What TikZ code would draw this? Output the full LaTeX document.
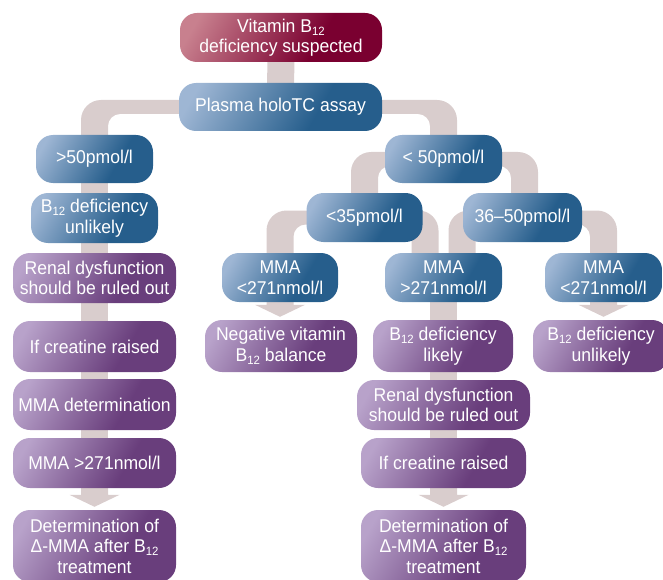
\documentclass[tikz,border=0pt]{standalone}
\usepackage{fontspec}
\setmainfont[FakeStretch=0.95]{Liberation Sans}
\usetikzlibrary{calc}
\definecolor{blueL}{RGB}{158,182,212}
\definecolor{blueD}{RGB}{38,94,140}
\definecolor{purL}{RGB}{184,162,202}
\definecolor{purD}{RGB}{105,62,124}
\definecolor{redL}{RGB}{200,128,142}
\definecolor{redD}{RGB}{122,0,48}
\definecolor{conn}{RGB}{217,205,205}
\pgfdeclarehorizontalshading{bshade}{100bp}{color(0bp)=(blueL); color(22bp)=(blueL); color(62bp)=(blueD); color(100bp)=(blueD)}
\pgfdeclarehorizontalshading{pshade}{100bp}{color(0bp)=(purL); color(22bp)=(purL); color(62bp)=(purD); color(100bp)=(purD)}
\pgfdeclarehorizontalshading{rshade}{100bp}{color(0bp)=(redL); color(22bp)=(redL); color(62bp)=(redD); color(100bp)=(redD)}
\pgfdeclarelayer{bg}
\pgfsetlayers{bg,main}
\newcommand\subs[1]{\raisebox{-3pt}{\fontsize{12}{12}\selectfont #1}}
% branch to a child on the left: parent, child, x offset
\newcommand\branchL[3]{\fill[conn] let \p1=(#1.center), \p2=($(#2.center)+(#3,0)$) in
  (\x1,\y1+7pt) -- (\x2+6.5pt,\y1+7pt) arc[start angle=90,end angle=180,radius=20pt]
  -- (\x2-13.5pt,\y2) -- (\x2+13.5pt,\y2) -- (\x2+13.5pt,\y1-19pt)
  arc[start angle=180,end angle=90,radius=12pt] -- (\x1,\y1-7pt) -- cycle;}
% branch to a child on the right
\newcommand\branchR[3]{\fill[conn] let \p1=(#1.center), \p2=($(#2.center)+(#3,0)$) in
  (\x1,\y1+7pt) -- (\x2-6.5pt,\y1+7pt) arc[start angle=90,end angle=0,radius=20pt]
  -- (\x2+13.5pt,\y2) -- (\x2-13.5pt,\y2) -- (\x2-13.5pt,\y1-19pt)
  arc[start angle=0,end angle=90,radius=12pt] -- (\x1,\y1-7pt) -- cycle;}
% broad downward arrow
\newcommand\arrowdn[2]{\fill[conn] let \p1=(#1.center), \p2=(#2.north) in
  (\x1-13.5pt,\y1) -- (\x1-13.5pt,\y2+15pt) -- (\x1-25pt,\y2+15pt) -- (\x1,\y2+3pt)
  -- (\x1+25pt,\y2+15pt) -- (\x1+13.5pt,\y2+15pt) -- (\x1+13.5pt,\y1) -- cycle;}
\tikzset{
  box/.style 2 args={rectangle, rounded corners=17pt, minimum width=#1pt, minimum height=#2pt,
    inner sep=0pt, text=white, align=center, font=\fontsize{18.5}{20.5}\selectfont},
  bbox/.style={shade, shading=bshade, shading angle=-30},
  pbox/.style={shade, shading=pshade, shading angle=-30},
  rbox/.style={shade, shading=rshade, shading angle=-30},
  vline/.style={draw=conn, line width=27pt},
}
\begin{document}
\begin{tikzpicture}[x=1pt,y=1pt]
\useasboundingbox (0,0) rectangle (663,-580);
\clip (0,0) rectangle (663,-580);
% nodes
\node[box={202}{49}, rbox] (top) at (281,-37.5) {Vitamin B\subs{12}\\deficiency suspected};
\node[box={203}{48}, bbox] (plasma) at (280.5,-107) {Plasma holoTC assay};
\node[box={117}{48}, bbox] (gt50) at (94.5,-159) {>50pmol/l};
\node[box={117}{48}, bbox] (lt50) at (443.5,-159) {< 50pmol/l};
\node[box={127}{50}, bbox] (unlL) at (94.5,-218) {B\subs{12} deficiency\\unlikely};
\node[box={116}{49}, bbox] (lt35) at (364.5,-217.5) {<35pmol/l};
\node[box={119}{49}, bbox] (r3650) at (522.5,-217.5) {36–50pmol/l};
\node[box={116}{49}, bbox] (mma1) at (280,-277.5) {MMA\\<271nmol/l};
\node[box={117}{49}, bbox] (mma2) at (443.5,-277.5) {MMA\\>271nmol/l};
\node[box={117}{49}, bbox] (mma3) at (603.5,-277.5) {MMA\\<271nmol/l};
\node[box={163}{50}, pbox] (renL) at (94.5,-278) {Renal dysfunction\\should be ruled out};
\node[box={163}{51}, pbox] (creL) at (94.5,-346.5) {If creatine raised};
\node[box={163}{51}, pbox] (detmma) at (94.5,-404.5) {MMA determination};
\node[box={163}{50}, pbox] (mmagt) at (94.5,-463) {MMA >271nmol/l};
\node[box={163}{72}, pbox] (detL) at (94.5,-546) {Determination of\\Δ-MMA after B\subs{12}\\treatment};
\node[box={152}{52}, pbox] (neg) at (281,-346) {Negative vitamin\\B\subs{12} balance};
\node[box={140}{52}, pbox] (likely) at (443,-346) {B\subs{12} deficiency\\likely};
\node[box={136}{52}, pbox] (unlR) at (601,-346) {B\subs{12} deficiency\\unlikely};
\node[box={173}{50}, pbox] (renM) at (443.5,-405) {Renal dysfunction\\should be ruled out};
\node[box={165}{50}, pbox] (creM) at (443.5,-463) {If creatine raised};
\node[box={165}{72}, pbox] (detM) at (443.5,-546) {Determination of\\Δ-MMA after B\subs{12}\\treatment};
% connectors
\begin{pgfonlayer}{bg}
\draw[vline] (top.center) -- (plasma.center);
\draw[vline] (gt50.center) -- (mmagt.center);
\draw[vline] (mma2.center) -- (creM.center);
\branchL{plasma}{gt50}{0}
\branchR{plasma}{lt50}{0}
\branchL{lt50}{lt35}{0}
\branchR{lt50}{r3650}{2}
\branchL{lt35}{mma1}{0}
\branchR{lt35}{mma2}{-18.5}
\branchL{r3650}{mma2}{18.5}
\branchR{r3650}{mma3}{0}
\arrowdn{mmagt}{detL}
\arrowdn{creM}{detM}
\arrowdn{mma1}{neg}
\arrowdn{mma3}{unlR}
\end{pgfonlayer}
\end{tikzpicture}
\end{document}
